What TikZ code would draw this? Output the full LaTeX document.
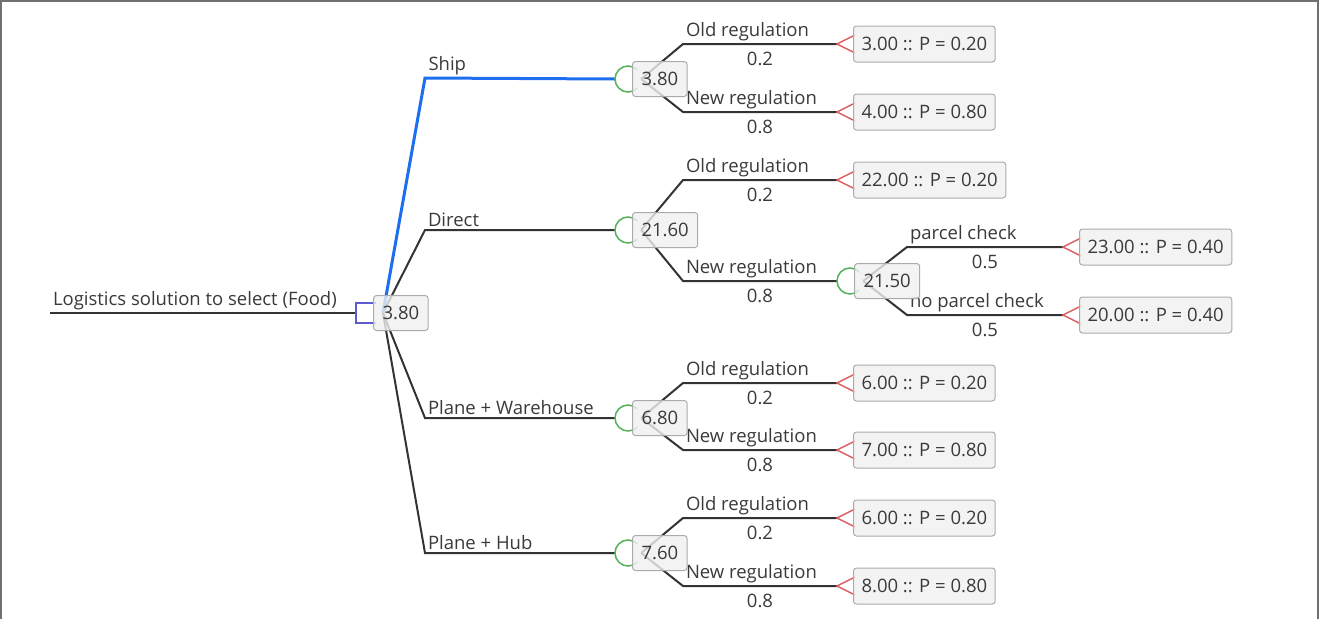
\documentclass[tikz,border=0pt]{standalone}
\usepackage{fontspec}
\setmainfont{Open Sans}
\usepackage{xcolor}
\usetikzlibrary{positioning}

\definecolor{edgegray}{HTML}{333333}
\definecolor{textgray}{HTML}{3A3A3A}
\definecolor{pickblue}{HTML}{1E6FEF}
\definecolor{chancegreen}{HTML}{52B35A}
\definecolor{endred}{HTML}{D9605E}
\definecolor{decpurple}{HTML}{5C5CD0}
\definecolor{boxfill}{HTML}{F0F0F0}
\definecolor{boxgray}{HTML}{ABABAB}
\definecolor{framegray}{HTML}{707070}

\begin{document}
\begin{tikzpicture}[
  x=1pt, y=-1pt,
  font=\fontsize{18.5}{22}\selectfont,
  line/.style={line width=2pt, draw=edgegray},
  pick/.style={line width=3pt, draw=pickblue},
  lbl/.style={text=textgray, inner sep=2pt},
  prob/.style={text=textgray, inner sep=7pt},
  chance/.style={circle, minimum size=26pt, inner sep=0pt},
  decision/.style={rectangle, minimum size=20pt, inner sep=0pt},
  chancemark/.style={line width=1.5pt, draw=chancegreen},
  decmark/.style={line width=1.5pt, draw=decpurple},
  endmark/.style={line width=1.5pt, draw=endred},
  valbox/.style={rounded corners=3pt, draw=boxgray, line width=1pt, fill=boxfill,
    fill opacity=0.8, text opacity=1, text=textgray, minimum height=35pt, inner xsep=9pt},
  endbox/.style={valbox, minimum height=36pt, inner xsep=8pt}
]
\useasboundingbox (0,0) rectangle (1319,619);

% Decision root
\coordinate (root) at (50,313);
\node[decision] (dec) at (366,313) {};
\coordinate (fan) at (383,313);

% First level: alternatives
\coordinate (shipK) at (425,78);
\coordinate (dirK) at (425,230);
\coordinate (whK) at (425,418);
\coordinate (hubK) at (425,553);
\node[chance] (ship) at (628,79) {};
\node[chance] (dir) at (628,230) {};
\node[chance] (wh) at (628,418) {};
\node[chance] (hub) at (628,553) {};

% Second level: regulation outcomes
\coordinate (shipOK) at (683,44);  \coordinate (shipOT) at (837,44);
\coordinate (shipNK) at (683,112); \coordinate (shipNT) at (837,112);
\coordinate (dirOK) at (683,180);  \coordinate (dirOT) at (837,180);
\coordinate (dirNK) at (683,281);
\node[chance] (chk) at (850,281) {};
\coordinate (whOK) at (683,383);   \coordinate (whOT) at (837,383);
\coordinate (whNK) at (683,450);   \coordinate (whNT) at (837,450);
\coordinate (hubOK) at (683,518);  \coordinate (hubOT) at (837,518);
\coordinate (hubNK) at (683,586);  \coordinate (hubNT) at (837,586);

% Third level: parcel check
\coordinate (chkYK) at (907,247); \coordinate (chkYT) at (1063,247);
\coordinate (chkNK) at (907,315); \coordinate (chkNT) at (1063,315);

% Connectors
\draw[line] (root) -- node[pos=0, lbl, above right] {Logistics solution to select (Food)} (dec.west);

\draw[line] (fan) -- (dirK) -- node[pos=0, lbl, above right] {Direct} (dir.west);
\draw[line] (fan) -- (whK) -- node[pos=0, lbl, above right] {Plane + Warehouse} (wh.west);
\draw[line] (fan) -- (hubK) -- node[pos=0, lbl, above right] {Plane + Hub} (hub.west);
\draw[pick] (fan) -- (shipK) -- node[pos=0, lbl, above right] {Ship} (ship.west);

\draw[line] (ship.east) -- (shipOK) -- node[pos=0, lbl, above right] {Old regulation} node[midway, prob, below] {0.2} (shipOT);
\draw[line] (ship.east) -- (shipNK) -- node[pos=0, lbl, above right] {New regulation} node[midway, prob, below] {0.8} (shipNT);
\draw[line] (dir.east) -- (dirOK) -- node[pos=0, lbl, above right] {Old regulation} node[midway, prob, below] {0.2} (dirOT);
\draw[line] (dir.east) -- (dirNK) -- node[pos=0, lbl, above right] {New regulation} node[midway, prob, below] {0.8} (chk.west);
\draw[line] (chk.east) -- (chkYK) -- node[pos=0, lbl, above right] {parcel check} node[midway, prob, below] {0.5} (chkYT);
\draw[line] (chk.east) -- (chkNK) -- node[pos=0, lbl, above right] {no parcel check} node[midway, prob, below] {0.5} (chkNT);
\draw[line] (wh.east) -- (whOK) -- node[pos=0, lbl, above right] {Old regulation} node[midway, prob, below] {0.2} (whOT);
\draw[line] (wh.east) -- (whNK) -- node[pos=0, lbl, above right] {New regulation} node[midway, prob, below] {0.8} (whNT);
\draw[line] (hub.east) -- (hubOK) -- node[pos=0, lbl, above right] {Old regulation} node[midway, prob, below] {0.2} (hubOT);
\draw[line] (hub.east) -- (hubNK) -- node[pos=0, lbl, above right] {New regulation} node[midway, prob, below] {0.8} (hubNT);

% Node marks
\draw[decmark] (dec.north east) -- (dec.north west) -- (dec.south west) -- (dec.south east);
\foreach \c in {ship,dir,wh,hub,chk}
  \draw[chancemark] (\c.center) ++(45:13pt) arc[start angle=45, end angle=315, radius=13pt];
\foreach \t in {shipOT,shipNT,dirOT,chkYT,chkNT,whOT,whNT,hubOT,hubNT}
  \draw[endmark] ([shift={(18,-9)}]\t) -- (\t) -- ([shift={(18,9)}]\t);

% Values
\node[valbox, right=7pt of dec.center] (decV) {3.80};
\node[valbox, right=4pt of ship.center] (shipV) {3.80};
\node[valbox, right=4pt of dir.center] (dirV) {21.60};
\node[valbox, right=4pt of wh.center] (whV) {6.80};
\node[valbox, right=4pt of hub.center] (hubV) {7.60};
\node[valbox, right=4pt of chk.center] (chkV) {21.50};

\node[endbox, right=16pt of shipOT] (shipOV) {3.00 :: P = 0.20};
\node[endbox, right=16pt of shipNT] (shipNV) {4.00 :: P = 0.80};
\node[endbox, right=16pt of dirOT] (dirOV) {22.00 :: P = 0.20};
\node[endbox, right=16pt of chkYT] (chkYV) {23.00 :: P = 0.40};
\node[endbox, right=16pt of chkNT] (chkNV) {20.00 :: P = 0.40};
\node[endbox, right=16pt of whOT] (whOV) {6.00 :: P = 0.20};
\node[endbox, right=16pt of whNT] (whNV) {7.00 :: P = 0.80};
\node[endbox, right=16pt of hubOT] (hubOV) {6.00 :: P = 0.20};
\node[endbox, right=16pt of hubNT] (hubNV) {8.00 :: P = 0.80};

% Frame
\draw[line width=2pt, draw=framegray] (1,619) -- (1,1) -- (1318,1) -- (1318,619);
\end{tikzpicture}
\end{document}
